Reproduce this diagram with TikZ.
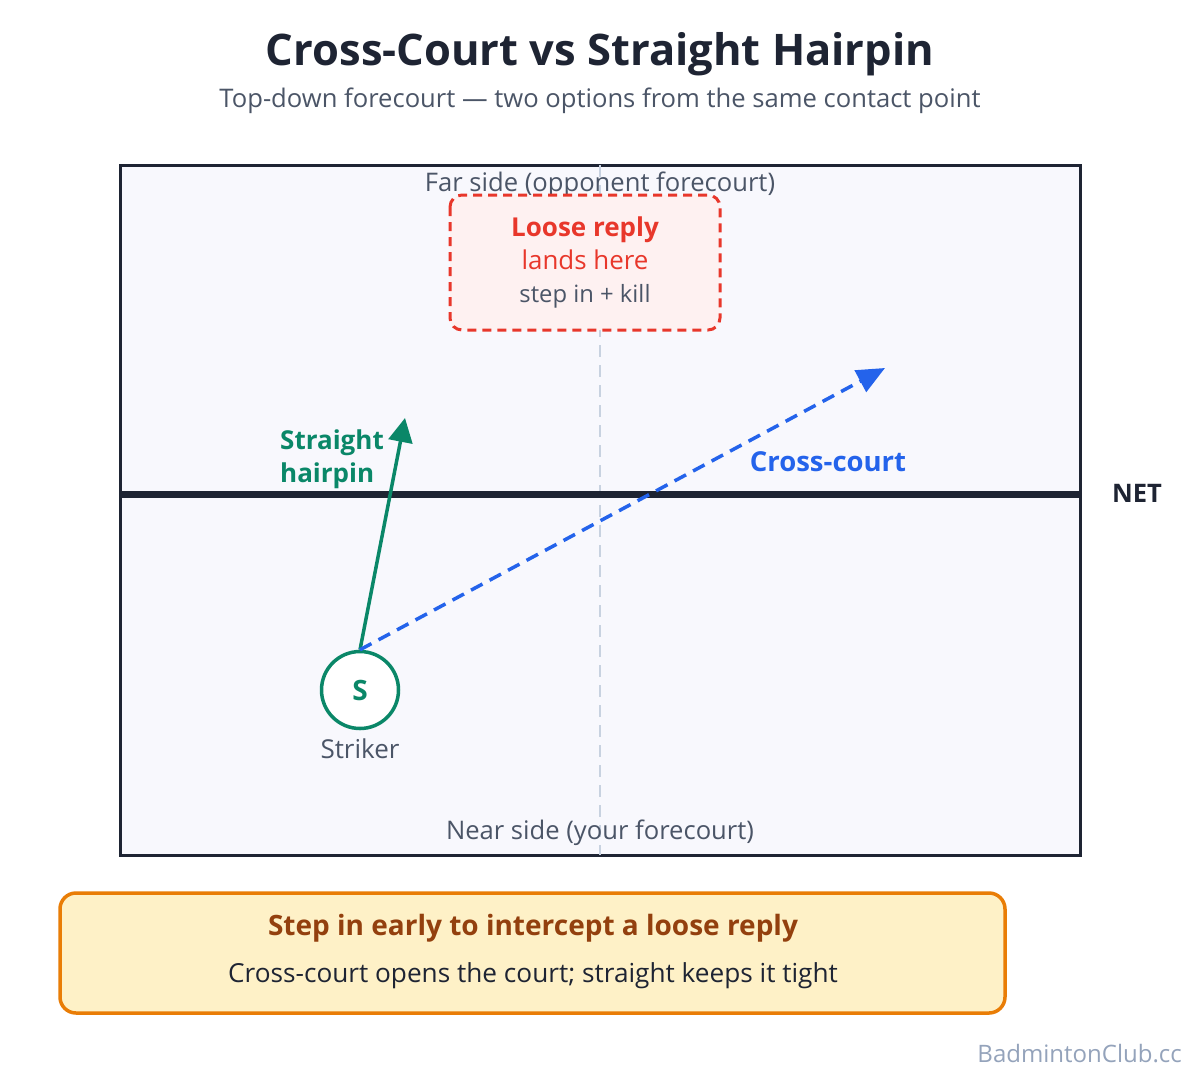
\documentclass[tikz,border=0pt]{standalone}
\usepackage{fontspec}
\setmainfont{Open Sans}
\usetikzlibrary{arrows.meta}
\definecolor{ink}{HTML}{1E2433}
\definecolor{slate}{HTML}{4B5567}
\definecolor{courtbg}{HTML}{F8F8FD}
\definecolor{midline}{HTML}{C8D2E0}
\definecolor{loosered}{HTML}{E8372B}
\definecolor{loosebg}{HTML}{FEF1F1}
\definecolor{greenS}{HTML}{0A8768}
\definecolor{blueC}{HTML}{2463EB}
\definecolor{orangeB}{HTML}{E97D06}
\definecolor{tipbg}{HTML}{FEF1C7}
\definecolor{brownT}{HTML}{93400E}
\definecolor{water}{HTML}{94A3BB}
\newcommand{\fs}[1]{\fontsize{#1}{#1}\selectfont}
\tikzset{
  lbl/.style={inner sep=0pt, anchor=base},
}
\begin{document}
\begin{tikzpicture}[x=1pt,y=-1pt]
\useasboundingbox (0,0) rectangle (1200,1080);
\fill[white] (0,0) rectangle (1200,1080);
% title
\node[lbl, text=ink] (title) at (600,65) {\fs{43.5}\bfseries Cross-Court vs Straight Hairpin};
\node[lbl, text=slate] (sub) at (600,107) {\fs{25.6}Top-down forecourt — two options from the same contact point};
% court
\draw[ink, line width=3, fill=courtbg] (120,165) rectangle (1080,855);
\coordinate (midtop) at (600,165);
\coordinate (midbot) at (600,855);
\draw[midline, line width=2.5, dash pattern=on 12 off 8] (midtop) -- (midbot);
\coordinate (netL) at (120,494);
\coordinate (netR) at (1080,494);
\draw[ink, line width=7] (netL) -- (netR);
\node[lbl, text=ink] (net) at (1137,502) {\fs{25.5}\bfseries NET};
\node[lbl, text=slate] (far) at (600,191) {\fs{25.6}Far side (opponent forecourt)};
\node[lbl, text=slate] (near) at (600,839) {\fs{25.6}Near side (your forecourt)};
% loose reply box
\draw[loosered, line width=3, dash pattern=on 9 off 6, fill=loosebg, rounded corners=12] (450,195) rectangle (720,330);
\node[lbl, text=loosered] (loose) at (585,236) {\fs{26}\bfseries Loose reply};
\node[lbl, text=loosered] (lands) at (585,269) {\fs{25.9}lands here};
\node[lbl, text=slate] (kill) at (585,302) {\fs{23.8}step in + kill};
% striker
\node[circle, draw=greenS, line width=3.5, fill=white, minimum size=77, inner sep=0pt, text=greenS] (S) at (360,690) {\fs{28}\bfseries S};
\node[lbl, text=slate] (striker) at (360,758) {\fs{26}Striker};
% arrows
\coordinate (straightEnd) at (405,418);
\coordinate (crossEnd) at (885,368);
\draw[greenS, line width=3.5, -{Triangle[length=24,width=24]}] (S.north) -- (straightEnd);
\draw[blueC, line width=3.5, dash pattern=on 13 off 8, -{Triangle[length=28,width=24]}] (S.north) -- (crossEnd);
\node[lbl, text=greenS, anchor=base west] (sh1) at (280,449) {\fs{26}\bfseries Straight};
\node[lbl, text=greenS, anchor=base west] (sh2) at (280,482) {\fs{26}\bfseries hairpin};
\node[lbl, text=blueC] (cc) at (828,471) {\fs{27.5}\bfseries Cross-court};
% bottom tip box
\draw[orangeB, line width=3.5, fill=tipbg, rounded corners=16] (60,893) rectangle (1005,1013);
\node[lbl, text=brownT] (tip1) at (533,935) {\fs{28}\bfseries Step in early to intercept a loose reply};
\node[lbl, text=ink] (tip2) at (533,982) {\fs{26.2}Cross-court opens the court; straight keeps it tight};
\node[lbl, text=water, anchor=base east] (wm) at (1182,1062) {\fs{24}BadmintonClub.cc};
\end{tikzpicture}
\end{document}
